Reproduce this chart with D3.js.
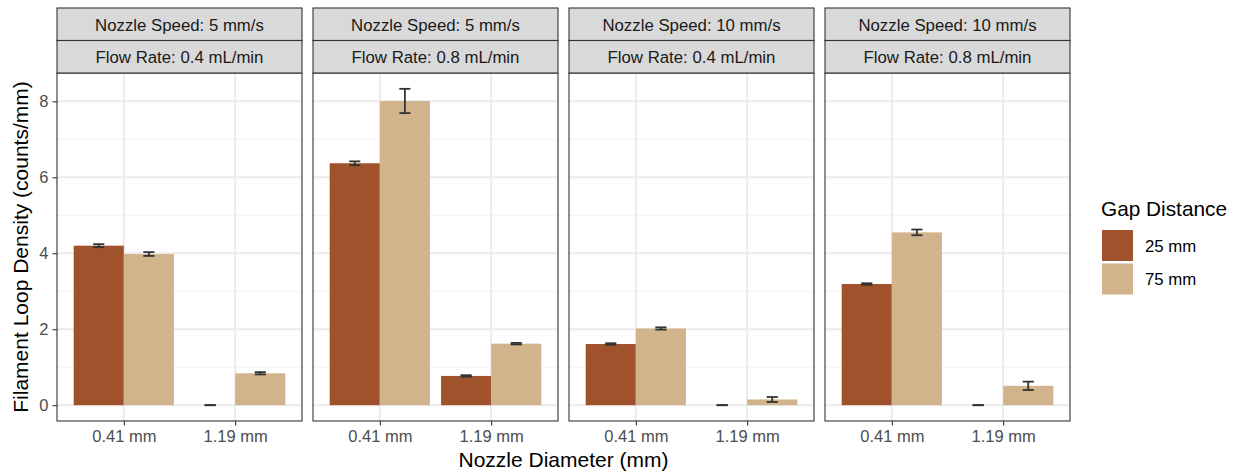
<!DOCTYPE html>
<html>
<head>
<meta charset="utf-8">
<script src="https://cdn.jsdelivr.net/npm/d3@7"></script>
<style>
  body { margin: 0; background: #fff; }
  text { font-family: "Liberation Sans", Arial, sans-serif; }
</style>
</head>
<body>
<script>
const width = 1241;
const height = 475;

// facet labels
const speeds = ["Nozzle Speed: 5 mm/s", "Nozzle Speed: 5 mm/s", "Nozzle Speed: 10 mm/s", "Nozzle Speed: 10 mm/s"];
const flows = ["Flow Rate: 0.4 mL/min", "Flow Rate: 0.8 mL/min", "Flow Rate: 0.4 mL/min", "Flow Rate: 0.8 mL/min"];

const diameters = ["0.41 mm", "1.19 mm"];
const gaps = ["25 mm", "75 mm"];
const gapColors = ["#A0522D", "#D2B48C"];

// mean per panel, [diameter][gap]
const means = [
	[[4.20, 3.98], [0.00, 0.84]],
	[[6.37, 8.01], [0.77, 1.62]],
	[[1.61, 2.02], [0.00, 0.15]],
	[[3.19, 4.55], [0.00, 0.51]]
];
// half width of the error bars
const errs = [
	[[0.04, 0.05], [0.00, 0.03]],
	[[0.05, 0.32], [0.02, 0.02]],
	[[0.02, 0.03], [0.00, 0.065]],
	[[0.02, 0.075], [0.00, 0.11]]
];

const yTicks = [0, 2, 4, 6, 8];
const yMinor = [1, 3, 5, 7];

const svg = d3.select("body")
	.append("svg")
	.attr("width", width)
	.attr("height", height);

const panelX = [57, 313, 569, 825];
const panelW = 245;
const stripTop = 8, stripH = 32.5;
const plotTop = 73, plotBottom = 421;

// ggplot style 5% expansion over 0 .. max(mean+err)
const yMax = d3.max(means.flatMap((p, i) => p.flatMap((d, j) => d.map((v, k) => v + errs[i][j][k]))));
const pad = yMax * 0.05;
const y = d3.scaleLinear().domain([-pad, yMax + pad]).range([plotBottom, plotTop]);

const rows = [];
means.forEach((p, i) => p.forEach((d, j) => d.forEach((v, k) => {
	rows.push({panel: i, diam: diameters[j], gap: gaps[k], gi: k, value: v, err: errs[i][j][k]});
})));

panelX.forEach(function(px, i) {
	const g = svg.append("g");
	const x = d3.scalePoint().domain(diameters).range([px, px + panelW]).padding(0.6);
	const step = x.step();
	const dodge = d3.scaleBand().domain(gaps).range([-0.45 * step, 0.45 * step]);

	// grid
	g.selectAll(".minor").data(yMinor).enter().append("line")
		.attr("x1", px).attr("x2", px + panelW)
		.attr("y1", d => y(d)).attr("y2", d => y(d))
		.attr("stroke", "#F2F2F2").attr("stroke-width", 1);
	g.selectAll(".major").data(yTicks).enter().append("line")
		.attr("x1", px).attr("x2", px + panelW)
		.attr("y1", d => y(d)).attr("y2", d => y(d))
		.attr("stroke", "#EBEBEB").attr("stroke-width", 2);
	g.selectAll(".vmajor").data(diameters).enter().append("line")
		.attr("x1", d => x(d)).attr("x2", d => x(d))
		.attr("y1", plotTop).attr("y2", plotBottom)
		.attr("stroke", "#EBEBEB").attr("stroke-width", 2);

	const data = rows.filter(r => r.panel == i);

	g.selectAll("rect.bar").data(data.filter(d => d.value > 0)).enter().append("rect")
		.attr("x", d => x(d.diam) + dodge(d.gap))
		.attr("width", dodge.bandwidth())
		.attr("y", d => y(d.value))
		.attr("height", d => y(0) - y(d.value))
		.attr("fill", d => gapColors[d.gi]);

	// error bars
	const ew = 0.1 * step / 2;
	const eb = g.selectAll("g.err").data(data).enter().append("g")
		.attr("stroke", "#333333").attr("stroke-width", 1.8).attr("fill", "none");
	eb.append("line")
		.attr("x1", d => x(d.diam) + dodge(d.gap) + dodge.bandwidth() / 2)
		.attr("x2", d => x(d.diam) + dodge(d.gap) + dodge.bandwidth() / 2)
		.attr("y1", d => y(d.value - d.err)).attr("y2", d => y(d.value + d.err));
	[-1, 1].forEach(function(s) {
		eb.append("line")
			.attr("x1", d => x(d.diam) + dodge(d.gap) + dodge.bandwidth() / 2 - ew)
			.attr("x2", d => x(d.diam) + dodge(d.gap) + dodge.bandwidth() / 2 + ew)
			.attr("y1", d => y(d.value + s * d.err)).attr("y2", d => y(d.value + s * d.err));
	});

	// panel border
	g.append("rect")
		.attr("x", px).attr("y", plotTop)
		.attr("width", panelW).attr("height", plotBottom - plotTop)
		.attr("fill", "none").attr("stroke", "#333333").attr("stroke-width", 1.1);

	// strips
	[speeds[i], flows[i]].forEach(function(label, r) {
		const sy = stripTop + r * stripH;
		g.append("rect")
			.attr("x", px).attr("y", sy)
			.attr("width", panelW).attr("height", stripH)
			.attr("fill", "#D9D9D9").attr("stroke", "#333333").attr("stroke-width", 1.1);
		g.append("text")
			.attr("x", px + panelW / 2).attr("y", sy + 22.5)
			.attr("text-anchor", "middle")
			.attr("font-size", 16.8).attr("fill", "#1A1A1A")
			.text(label);
	});

	// x axis
	const xa = g.append("g")
		.attr("transform", `translate(0,${plotBottom})`)
		.call(d3.axisBottom(x).tickSize(4.5).tickPadding(5));
	xa.select(".domain").remove();
	xa.selectAll(".tick line").attr("stroke", "#333333").attr("stroke-width", 1.1);
	xa.selectAll(".tick text").attr("font-size", 16.5).attr("fill", "#4D4D4D")
		.attr("font-family", "Liberation Sans, Arial, sans-serif");

	if (i == 0) {
		const ya = g.append("g")
			.attr("transform", `translate(${px},0)`)
			.call(d3.axisLeft(y).tickValues(yTicks).tickSize(4.5).tickPadding(4));
		ya.select(".domain").remove();
		ya.selectAll(".tick line").attr("stroke", "#333333").attr("stroke-width", 1.1);
		ya.selectAll(".tick text").attr("font-size", 16.5).attr("fill", "#4D4D4D")
			.attr("font-family", "Liberation Sans, Arial, sans-serif");
	}
});

// axis titles
svg.append("text")
	.attr("x", (panelX[0] + panelX[3] + panelW) / 2).attr("y", 467)
	.attr("text-anchor", "middle").attr("font-size", 21).attr("fill", "#000")
	.text("Nozzle Diameter (mm)");

svg.append("text")
	.attr("transform", `translate(28,${(plotTop + plotBottom) / 2}) rotate(-90)`)
	.attr("text-anchor", "middle").attr("font-size", 21).attr("fill", "#000")
	.text("Filament Loop Density (counts/mm)");

// legend
const legend = svg.append("g").attr("transform", "translate(1101,0)");
legend.append("text").attr("x", 0).attr("y", 216)
	.attr("font-size", 20.8).attr("fill", "#000").text("Gap Distance");
gaps.forEach(function(gp, k) {
	legend.append("rect")
		.attr("x", 1).attr("y", 230 + k * 33.5)
		.attr("width", 31).attr("height", 31)
		.attr("fill", gapColors[k]);
	legend.append("text")
		.attr("x", 44).attr("y", 252 + k * 33)
		.attr("font-size", 16.8).attr("fill", "#000").text(gp);
});
</script>
</body>
</html>
